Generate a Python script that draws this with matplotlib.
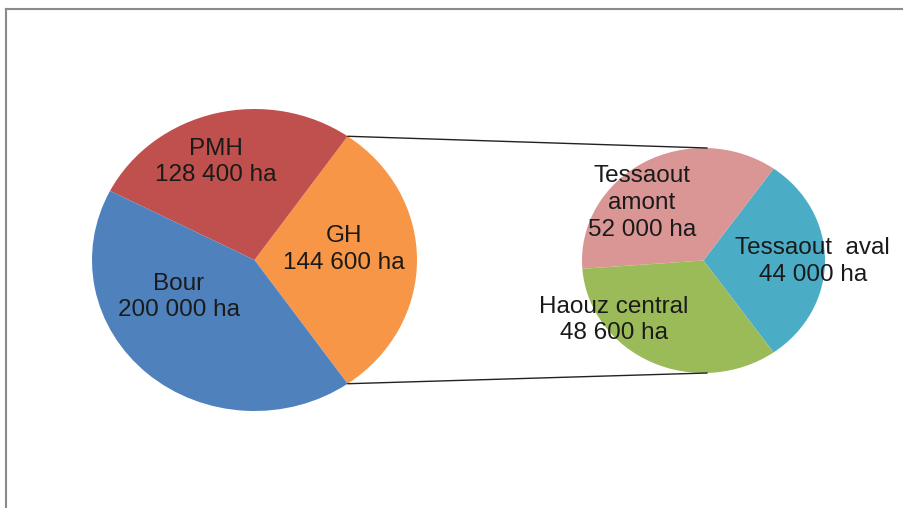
import matplotlib
matplotlib.use('Agg')
import matplotlib.pyplot as plt
from matplotlib.patches import ConnectionPatch
from matplotlib.lines import Line2D
import numpy as np

plt.rcParams['font.family'] = ['Liberation Sans', 'DejaVu Sans']

# main pie: GH gets split in the small pie
main_labels = ['GH', 'PMH', 'Bour']
main_values = [144600, 128400, 200000]
main_colors = ['#F79646', '#C0504D', '#4F81BD']

sub_labels = ['Tessaout  aval', 'Tessaout\namont', 'Haouz central']
sub_values = [44000, 52000, 48600]
sub_colors = ['#4BACC6', '#D99694', '#9BBB59']

# label placement inside each pie (unit circle coords)
main_pos = [(0.551, 0.07), (-0.237, 0.649), (-0.465, -0.245)]
sub_pos = [(0.90, -0.01), (-0.506, 0.511), (-0.737, -0.529)]


def fmt(name, v):
    return name + '\n' + f'{v:,}'.replace(',', ' ') + ' ha'


W, H = 904, 508
fig = plt.figure(figsize=(W / 100, H / 100), dpi=100)


def pie_axes(cx, cy, rx, ry):
    return fig.add_axes([(cx - rx) / W, (H - cy - ry) / H, 2 * rx / W, 2 * ry / H])


ax1 = pie_axes(254.5, 260, 162.5, 151)
ax2 = pie_axes(703.5, 260.5, 121.5, 112.5)

start1 = -main_values[0] / sum(main_values) * 360 / 2
w1, _ = ax1.pie(main_values, colors=main_colors, startangle=start1,
                counterclock=True, radius=1, wedgeprops=dict(linewidth=0))
start2 = -sub_values[0] / sum(sub_values) * 360 / 2
w2, _ = ax2.pie(sub_values, colors=sub_colors, startangle=start2,
                counterclock=True, radius=1, wedgeprops=dict(linewidth=0))

for ax in (ax1, ax2):
    ax.set_aspect('auto')
    ax.set_xlim(-1, 1)
    ax.set_ylim(-1, 1)
    ax.axis('off')

for name, v, (x, y) in zip(main_labels, main_values, main_pos):
    ax1.text(x, y, fmt(name, v), ha='center', va='center', fontsize=17.5,
             color='#1a1a1a', linespacing=1.28)
for name, v, (x, y) in zip(sub_labels, sub_values, sub_pos):
    ax2.text(x, y, fmt(name, v), ha='center', va='center', fontsize=17.5,
             color='#1a1a1a', linespacing=1.28)

# connector lines from GH wedge edges to top / bottom of small pie
gh = w1[0]
for ang, yb in ((gh.theta2, 1), (gh.theta1, -1)):
    t = np.deg2rad(ang)
    con = ConnectionPatch(xyA=(np.cos(t), np.sin(t)), coordsA=ax1.transData,
                          xyB=(0.03, yb), coordsB=ax2.transData,
                          color='#222222', linewidth=1.0)
    fig.add_artist(con)

# chart frame (top and left edges visible)
fig.add_artist(Line2D([6 / W, 1], [1 - 9 / H, 1 - 9 / H], color='#8a8a8a', lw=1.5))
fig.add_artist(Line2D([6 / W, 6 / W], [0, 1 - 9 / H], color='#8a8a8a', lw=1.5))

fig.savefig('out.png', dpi=100)
